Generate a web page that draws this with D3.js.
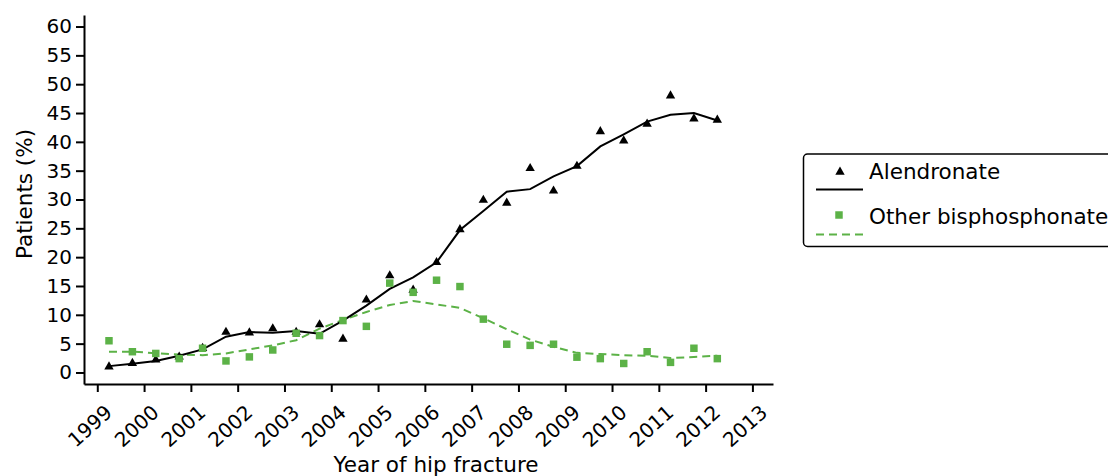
<!DOCTYPE html>
<html lang="en">
<head>
    <meta charset="UTF-8">
    <title>Bisphosphonate use after hip fracture</title>
    <style>
        body { margin: 0; background: #fff; }
        svg { display: block; font-family: "DejaVu Sans", sans-serif; }
        .axis path, .axis line { stroke: #000; stroke-width: 2; }
        .axis text { font-size: 20px; fill: #000; font-family: "DejaVu Sans", sans-serif; }
        .label { font-size: 21.5px; fill: #000; }
        .legend text { font-size: 21.5px; fill: #000; }
    </style>
</head>
<body>
    <svg></svg>
<script src="https://d3js.org/d3.v7.min.js"></script>
<script>
    // half-year points from 1999.25 to 2012.25
    var periods = [1999.25, 1999.75, 2000.25, 2000.75, 2001.25, 2001.75, 2002.25, 2002.75,
        2003.25, 2003.75, 2004.25, 2004.75, 2005.25, 2005.75, 2006.25, 2006.75,
        2007.25, 2007.75, 2008.25, 2008.75, 2009.25, 2009.75, 2010.25, 2010.75,
        2011.25, 2011.75, 2012.25];

    var alendronate = [1.0, 1.6, 2.2, 2.7, 4.2, 7.0, 6.9, 7.6, 7.0, 8.3, 5.8, 12.6, 16.8, 14.3,
        19.1, 24.8, 29.9, 29.4, 35.4, 31.5, 35.8, 41.8, 40.2, 43.1, 48.0, 44.0, 43.8];
    var alendronateSmooth = [1.1, 1.5, 2.0, 2.9, 4.0, 6.2, 7.0, 6.9, 7.2, 6.7, 9.0, 11.6, 14.5, 16.5,
        19.1, 24.7, 28.0, 31.35, 31.8, 34.0, 35.8, 39.2, 41.3, 43.5, 44.7, 45.0, 43.7];

    var other = [5.5, 3.6, 3.3, 2.4, 4.2, 2.0, 2.7, 3.9, 6.8, 6.4, 9.0, 8.0, 15.5, 13.9,
        16.0, 14.9, 9.25, 4.9, 4.7, 4.9, 2.65, 2.4, 1.56, 3.6, 1.75, 4.2, 2.4];
    var otherSmooth = [3.6, 3.6, 3.35, 3.1, 3.0, 3.3, 4.0, 4.7, 5.6, 7.6, 9.1, 10.5, 11.7, 12.4,
        11.8, 11.2, 9.4, 7.5, 5.7, 4.45, 3.4, 3.2, 3.0, 2.9, 2.5, 2.7, 2.9];

    var yearTicks = d3.range(1999, 2014);
    var pctTicks = d3.range(0, 61, 5);

    var seriesNames = ["Alendronate", "Other bisphosphonate"];

    var width = 1108, height = 476;
    var green = "#5cb247";

    var svg = d3.select("svg")
        .attr("width", width)
        .attr("height", height);

    var x = d3.scaleLinear()
        .domain([1998.716, 2013.44])
        .range([84, 773]);

    var y = d3.scaleLinear()
        .domain([-2, 62])
        .range([384, 15]);

    // axes
    svg.append("g")
        .attr("class", "axis")
        .attr("transform", "translate(0,384)")
        .call(d3.axisBottom(x).tickValues(yearTicks).tickFormat(d3.format("d")).tickSize(8).tickSizeOuter(0))
        .selectAll("text")
        .attr("text-anchor", "end")
        .attr("y", 0)
        .attr("transform", "translate(11,25) rotate(-42)")
        .attr("dy", "0.35em");

    svg.append("g")
        .attr("class", "axis")
        .attr("transform", "translate(84,0)")
        .call(d3.axisLeft(y).tickValues(pctTicks).tickSize(8).tickSizeOuter(0))
        .selectAll("text")
        .attr("x", -12);

    svg.append("text")
        .attr("class", "label")
        .attr("text-anchor", "middle")
        .attr("x", 436)
        .attr("y", 472)
        .text("Year of hip fracture");

    svg.append("text")
        .attr("class", "label")
        .attr("text-anchor", "middle")
        .attr("transform", "translate(32,194) rotate(-90)")
        .text("Patients (%)");

    // lines
    var line = d3.line()
        .x(function(d, i) { return x(periods[i]); })
        .y(function(d) { return y(d); });

    svg.append("path")
        .datum(otherSmooth)
        .attr("d", line)
        .attr("fill", "none")
        .attr("stroke", green)
        .attr("stroke-width", 2)
        .attr("stroke-dasharray", "8,5");

    svg.append("path")
        .datum(alendronateSmooth)
        .attr("d", line)
        .attr("fill", "none")
        .attr("stroke", "#000")
        .attr("stroke-width", 2);

    var tri = d3.symbol().type(d3.symbolTriangle).size(38);
    var sq = d3.symbol().type(d3.symbolSquare).size(56);

    svg.append("g").selectAll("path")
        .data(alendronate)
        .enter()
        .append("path")
        .attr("d", tri)
        .attr("fill", "#000")
        .attr("transform", function(d, i) { return "translate(" + x(periods[i]) + "," + y(d) + ")"; });

    svg.append("g").selectAll("path")
        .data(other)
        .enter()
        .append("path")
        .attr("d", sq)
        .attr("fill", green)
        .attr("transform", function(d, i) { return "translate(" + x(periods[i]) + "," + y(d) + ")"; });

    // legend
    var lg = svg.append("g").attr("class", "legend");
    lg.append("rect")
        .attr("x", 803.5).attr("y", 154)
        .attr("width", 330).attr("height", 92.5)
        .attr("rx", 4)
        .attr("fill", "#fff")
        .attr("stroke", "#000")
        .attr("stroke-width", 1.5);

    lg.append("path").attr("d", tri).attr("fill", "#000").attr("transform", "translate(840,172)");
    lg.append("line").attr("x1", 816).attr("x2", 863).attr("y1", 189.5).attr("y2", 189.5)
        .attr("stroke", "#000").attr("stroke-width", 2);
    lg.append("text").attr("x", 869).attr("y", 179).text(seriesNames[0]);

    lg.append("path").attr("d", sq).attr("fill", green).attr("transform", "translate(839,215)");
    lg.append("line").attr("x1", 816).attr("x2", 863).attr("y1", 234.5).attr("y2", 234.5)
        .attr("stroke", green).attr("stroke-width", 2).attr("stroke-dasharray", "8,5");
    lg.append("text").attr("x", 869).attr("y", 224).text(seriesNames[1]);
</script>
</body>
</html>
